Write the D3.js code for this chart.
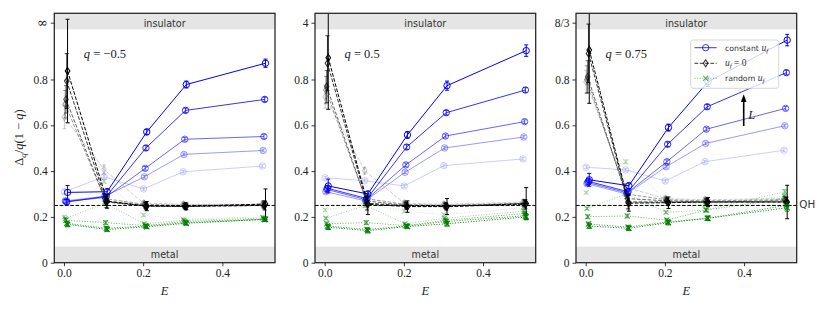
<!DOCTYPE html>
<html><head><meta charset="utf-8">
<script src="https://cdn.jsdelivr.net/npm/d3@7"></script>
<style>body{margin:0;background:#fff;} svg{display:block;}</style>
</head><body>
<svg id="c" width="830" height="311"></svg>
<script>
// ---------------- data ----------------
const E = [0, 0.1, 0.2, 0.3, 0.5];
const qLabels = ["−0.5", "0.5", "0.75"];
const topTickLabels = ["∞", "4", "8/3"];
const yTicks = [0, 0.2, 0.4, 0.6, 0.8];
const xTicks = [0, 0.2, 0.4];
const topTickValue = 1.048;
const insulatorFrom = 1.019;
const metalTo = 0.07;
const qhLevel = 0.25;
const legendLabels = ["constant", "= 0", "random"];

// rows: L1 (smallest, faintest) ... L5 (largest, darkest)
// q = -0.5
const constQ1 = [
  [0.310, 0.375, 0.322, 0.397, 0.422],
  [0.270, 0.290, 0.375, 0.473, 0.490],
  [0.268, 0.285, 0.412, 0.539, 0.551],
  [0.265, 0.290, 0.501, 0.665, 0.713],
  [0.307, 0.310, 0.571, 0.778, 0.871]];
const constErrQ1 = [
  [0.008, 0.008, 0.006, 0.006, 0.006],
  [0.008, 0.006, 0.006, 0.006, 0.006],
  [0.008, 0.006, 0.008, 0.008, 0.008],
  [0.010, 0.008, 0.010, 0.010, 0.010],
  [0.030, 0.012, 0.012, 0.015, 0.018]];
const zeroQ1 = [
  [0.635, 0.407, 0.260, 0.255, 0.255],
  [0.692, 0.280, 0.255, 0.250, 0.255],
  [0.713, 0.270, 0.250, 0.248, 0.250],
  [0.793, 0.265, 0.248, 0.245, 0.250],
  [0.837, 0.268, 0.247, 0.246, 0.256]];
const zeroErrQ1 = [
  [0.050, 0.020, 0.010, 0.010, 0.010],
  [0.060, 0.020, 0.010, 0.010, 0.015],
  [0.060, 0.020, 0.012, 0.010, 0.015],
  [0.120, 0.025, 0.015, 0.012, 0.020],
  [0.226, 0.030, 0.020, 0.015, 0.066]];
const randQ1 = [
  [0.200, 0.355, 0.208, 0.190, 0.200],
  [0.192, 0.260, 0.170, 0.185, 0.195],
  [0.185, 0.175, 0.162, 0.180, 0.190],
  [0.172, 0.150, 0.160, 0.175, 0.188],
  [0.167, 0.145, 0.157, 0.172, 0.190]];
const randErrQ1 = [
  [0.006, 0.008, 0.006, 0.006, 0.006],
  [0.006, 0.008, 0.006, 0.006, 0.006],
  [0.008, 0.008, 0.006, 0.006, 0.008],
  [0.008, 0.008, 0.006, 0.008, 0.008],
  [0.010, 0.008, 0.008, 0.008, 0.010]];

// q = 0.5
const constQ2 = [
  [0.371, 0.358, 0.335, 0.424, 0.453],
  [0.310, 0.270, 0.395, 0.501, 0.549],
  [0.320, 0.275, 0.427, 0.553, 0.616],
  [0.325, 0.280, 0.505, 0.655, 0.754],
  [0.335, 0.300, 0.558, 0.773, 0.926]];
const constErrQ2 = [
  [0.006, 0.006, 0.006, 0.006, 0.006],
  [0.008, 0.006, 0.006, 0.006, 0.006],
  [0.010, 0.006, 0.008, 0.008, 0.008],
  [0.012, 0.008, 0.010, 0.010, 0.010],
  [0.030, 0.012, 0.015, 0.020, 0.025]];
const zeroQ2 = [
  [0.725, 0.402, 0.260, 0.255, 0.265],
  [0.754, 0.280, 0.255, 0.250, 0.260],
  [0.769, 0.270, 0.250, 0.248, 0.258],
  [0.871, 0.260, 0.248, 0.245, 0.255],
  [0.895, 0.255, 0.245, 0.245, 0.258]];
const zeroErrQ2 = [
  [0.050, 0.015, 0.010, 0.010, 0.010],
  [0.060, 0.020, 0.010, 0.010, 0.015],
  [0.070, 0.020, 0.012, 0.012, 0.015],
  [0.120, 0.030, 0.015, 0.015, 0.020],
  [0.225, 0.045, 0.025, 0.035, 0.070]];
const randQ2 = [
  [0.230, 0.260, 0.225, 0.210, 0.240],
  [0.194, 0.250, 0.170, 0.194, 0.225],
  [0.170, 0.175, 0.162, 0.185, 0.215],
  [0.160, 0.145, 0.160, 0.180, 0.205],
  [0.155, 0.140, 0.158, 0.170, 0.200]];
const randErrQ2 = [
  [0.006, 0.008, 0.006, 0.006, 0.006],
  [0.006, 0.008, 0.006, 0.006, 0.008],
  [0.008, 0.008, 0.006, 0.008, 0.008],
  [0.008, 0.008, 0.006, 0.008, 0.010],
  [0.010, 0.010, 0.008, 0.010, 0.012]];

// q = 0.75
const constQ3 = [
  [0.417, 0.405, 0.357, 0.441, 0.491],
  [0.345, 0.300, 0.419, 0.521, 0.598],
  [0.350, 0.305, 0.441, 0.583, 0.674],
  [0.355, 0.310, 0.517, 0.681, 0.830],
  [0.362, 0.336, 0.590, 0.790, 0.972]];
const constErrQ3 = [
  [0.006, 0.006, 0.006, 0.006, 0.006],
  [0.008, 0.006, 0.006, 0.006, 0.006],
  [0.010, 0.008, 0.008, 0.008, 0.008],
  [0.012, 0.008, 0.010, 0.010, 0.010],
  [0.028, 0.012, 0.015, 0.020, 0.025]];
const zeroQ3 = [
  [0.790, 0.330, 0.280, 0.275, 0.280],
  [0.800, 0.300, 0.275, 0.270, 0.275],
  [0.812, 0.280, 0.270, 0.265, 0.270],
  [0.914, 0.265, 0.265, 0.265, 0.265],
  [0.929, 0.260, 0.262, 0.265, 0.265]];
const zeroErrQ3 = [
  [0.050, 0.015, 0.010, 0.010, 0.010],
  [0.060, 0.020, 0.010, 0.010, 0.015],
  [0.070, 0.020, 0.012, 0.012, 0.015],
  [0.128, 0.030, 0.015, 0.015, 0.020],
  [0.233, 0.035, 0.025, 0.020, 0.073]];
const randQ3 = [
  [0.306, 0.441, 0.274, 0.252, 0.290],
  [0.237, 0.300, 0.220, 0.230, 0.310],
  [0.201, 0.204, 0.186, 0.230, 0.280],
  [0.169, 0.155, 0.178, 0.194, 0.250],
  [0.160, 0.150, 0.175, 0.194, 0.240]];
const randErrQ3 = [
  [0.006, 0.008, 0.006, 0.006, 0.008],
  [0.006, 0.008, 0.006, 0.008, 0.010],
  [0.008, 0.008, 0.008, 0.008, 0.010],
  [0.008, 0.008, 0.008, 0.008, 0.012],
  [0.010, 0.010, 0.010, 0.010, 0.015]];

// ---------------- layout / style ----------------
const panels = [
  {q: qLabels[0], top: topTickLabels[0], groups: [[constQ1, constErrQ1], [zeroQ1, zeroErrQ1], [randQ1, randErrQ1]]},
  {q: qLabels[1], top: topTickLabels[1], groups: [[constQ2, constErrQ2], [zeroQ2, zeroErrQ2], [randQ2, randErrQ2]]},
  {q: qLabels[2], top: topTickLabels[2], groups: [[constQ3, constErrQ3], [zeroQ3, zeroErrQ3], [randQ3, randErrQ3]]}
];
const lefts = [54.3, 315, 576];
const W = 220.7, TOP = 13.3, BOT = 262.7;
const alphas = [0.2, 0.4, 0.6, 0.8, 1.0];
const styles = [
  {color: "#0000ff", dash: null, marker: "circle"},
  {color: "#000000", dash: "3.7,1.6", marker: "diamond"},
  {color: "#008000", dash: "1,1.65", marker: "x"}
];
const SERIF = "'Liberation Serif','DejaVu Serif',serif";
const SANS = "'DejaVu Sans',sans-serif";

const svg = d3.select("#c");
const x = d3.scaleLinear().domain([-0.0245, 0.533]).range([0, W]);
const y = d3.scaleLinear().domain([0, 1.089]).range([BOT, TOP]);
const jitter = i => 0.001 + 0.002 * i;

function marker(g, type, cx, cy, color, op) {
  if (type === "circle") {
    g.append("circle").attr("cx", cx).attr("cy", cy).attr("r", 3.2)
      .attr("fill", "none").attr("stroke", color).attr("stroke-opacity", op).attr("stroke-width", 1);
  } else if (type === "diamond") {
    g.append("path").attr("d", `M${cx},${cy-3.5}L${cx+2.3},${cy}L${cx},${cy+3.5}L${cx-2.3},${cy}Z`)
      .attr("fill", "none").attr("stroke", color).attr("stroke-opacity", op).attr("stroke-width", 1.1);
  } else {
    const s = 2.6;
    g.append("path").attr("d", `M${cx-s},${cy-s}L${cx+s},${cy+s}M${cx-s},${cy+s}L${cx+s},${cy-s}`)
      .attr("fill", "none").attr("stroke", color).attr("stroke-opacity", op).attr("stroke-width", 1.1);
  }
}

const defs = svg.append("defs");

panels.forEach((p, pi) => {
  const L0 = lefts[pi];
  const g = svg.append("g").attr("transform", `translate(${L0},0)`);
  defs.append("clipPath").attr("id", "clip" + pi)
    .append("rect").attr("x", 0).attr("y", TOP).attr("width", W).attr("height", BOT - TOP);

  // bands
  g.append("rect").attr("x", 0).attr("y", TOP).attr("width", W).attr("height", y(insulatorFrom) - TOP).attr("fill", "#e5e5e5");
  g.append("rect").attr("x", 0).attr("y", y(metalTo)).attr("width", W).attr("height", BOT - y(metalTo)).attr("fill", "#e5e5e5");
  g.append("text").attr("x", W / 2).attr("y", 26.5).attr("text-anchor", "middle")
    .attr("font-family", SANS).attr("font-size", 9.6).attr("fill", "#333").text("insulator");
  g.append("text").attr("x", W / 2).attr("y", 258).attr("text-anchor", "middle")
    .attr("font-family", SANS).attr("font-size", 9.6).attr("fill", "#333").text("metal");

  // QH dashed line
  g.append("line").attr("x1", 0).attr("x2", pi === 2 ? W + 2 : W).attr("y1", y(qhLevel)).attr("y2", y(qhLevel))
    .attr("stroke", "#000").attr("stroke-width", 1).attr("stroke-dasharray", "3.7,1.6");

  // data
  const dg = g.append("g").attr("clip-path", `url(#clip${pi})`);
  for (let li = 0; li < 5; li++) {
    p.groups.forEach(([vals, errs], gi) => {
      const st = styles[gi];
      const op = alphas[li];
      const pts = vals[li].map((v, k) => [x(E[k] + jitter(li)), y(v)]);
      const line = dg.append("path").attr("d", d3.line()(pts))
        .attr("fill", "none").attr("stroke", st.color).attr("stroke-opacity", op).attr("stroke-width", 1);
      if (st.dash) line.attr("stroke-dasharray", st.dash);
      pts.forEach((d, k) => {
        const v = vals[li][k], e = errs[li][k];
        const y1 = y(v + e), y2 = y(v - e);
        dg.append("line").attr("x1", d[0]).attr("x2", d[0]).attr("y1", y1).attr("y2", y2)
          .attr("stroke", st.color).attr("stroke-opacity", op).attr("stroke-width", 1);
        [y1, y2].forEach(yy => dg.append("line").attr("x1", d[0] - 2).attr("x2", d[0] + 2)
          .attr("y1", yy).attr("y2", yy).attr("stroke", st.color).attr("stroke-opacity", op).attr("stroke-width", 1));
        marker(dg, st.marker, d[0], d[1], st.color, op);
      });
    });
  }

  // axes
  const ya = g.append("g").call(d3.axisLeft(y).tickValues([...yTicks, topTickValue]).tickSize(3.5).tickPadding(3)
    .tickFormat(d => d === topTickValue ? p.top : (d === 0 ? "0" : d3.format(".1f")(d))));
  const xa = g.append("g").attr("transform", `translate(0,${BOT})`)
    .call(d3.axisBottom(x).tickValues(xTicks).tickSize(3.5).tickPadding(3).tickFormat(d3.format(".1f")));
  [ya, xa].forEach(a => {
    a.select(".domain").remove();
    a.selectAll("line").attr("stroke", "#222").attr("stroke-width", 0.9);
    a.selectAll("text").attr("font-family", SERIF).attr("font-size", 11.5).attr("fill", "#222");
  });
  ya.selectAll(".tick text").filter(d => d === topTickValue && p.top === "∞")
    .attr("font-family", "'DejaVu Serif',serif").attr("font-size", 13);

  // frame
  g.append("rect").attr("x", 0).attr("y", TOP).attr("width", W).attr("height", BOT - TOP)
    .attr("fill", "none").attr("stroke", "#222").attr("stroke-width", 1.25);

  // q label
  const qt = g.append("text").attr("x", 29.5).attr("y", 57.5).attr("font-family", SERIF).attr("font-size", 12.5).attr("fill", "#222");
  qt.append("tspan").attr("font-style", "italic").text("q");
  qt.append("tspan").text(" = " + p.q);

  // x label
  g.append("text").attr("x", W / 2).attr("y", 295).attr("text-anchor", "middle")
    .attr("font-family", SERIF).attr("font-style", "italic").attr("font-size", 12.5).attr("fill", "#222").text("E");
});

// y label
const yl = svg.append("text").attr("transform", "translate(23,137.5) rotate(-90)").attr("text-anchor", "middle")
  .attr("font-family", SERIF).attr("font-size", 12.5).attr("fill", "#222");
yl.append("tspan").text("Δ");
yl.append("tspan").attr("font-style", "italic").attr("font-size", 9).attr("dy", 2.5).text("q");
yl.append("tspan").attr("dy", -2.5).text("/");
yl.append("tspan").attr("font-style", "italic").text("q");
yl.append("tspan").text("(1 − ");
yl.append("tspan").attr("font-style", "italic").text("q");
yl.append("tspan").text(")");

// QH label
svg.append("text").attr("x", 799.3).attr("y", 208).attr("font-family", SANS).attr("font-size", 10.3).attr("fill", "#333").text("QH");

// legend (in right panel)
const lg = svg.append("g").attr("transform", `translate(${lefts[2]},0)`);
lg.append("rect").attr("x", 114.7).attr("y", 40).attr("width", 88).attr("height", 48.3).attr("rx", 2.5)
  .attr("fill", "#fff").attr("fill-opacity", 0.8).attr("stroke", "#ccc").attr("stroke-width", 0.8);
const rowsY = [47.7, 63.3, 78.3];
const legOps = [0.8, 0.8, 0.6];
styles.forEach((st, i) => {
  const ln = lg.append("line").attr("x1", 118.5).attr("x2", 140.7).attr("y1", rowsY[i]).attr("y2", rowsY[i])
    .attr("stroke", st.color).attr("stroke-opacity", legOps[i]).attr("stroke-width", 1);
  if (st.dash) ln.attr("stroke-dasharray", st.dash);
  marker(lg, st.marker, 129.7, rowsY[i], st.color, legOps[i]);
  const t = lg.append("text").attr("x", 149).attr("y", rowsY[i] + 2.8).attr("font-size", 7.8).attr("fill", "#333");
  if (i === 1) {
    t.append("tspan").attr("font-family", SERIF).attr("font-style", "italic").attr("font-size", 9.5).text("u");
    t.append("tspan").attr("font-family", SERIF).attr("font-style", "italic").attr("font-size", 7).attr("dy", 2).text("f");
    t.append("tspan").attr("font-family", SERIF).attr("font-size", 9.5).attr("dy", -2).text(" " + legendLabels[1]);
  } else {
    t.append("tspan").attr("font-family", SANS).text(legendLabels[i] + " ");
    t.append("tspan").attr("font-family", SERIF).attr("font-style", "italic").attr("font-size", 9.5).text("u");
    t.append("tspan").attr("font-family", SERIF).attr("font-style", "italic").attr("font-size", 7).attr("dy", 2).text("f");
  }
});

// L arrow
const ax = lefts[2] + 167.7;
svg.append("line").attr("x1", ax).attr("x2", ax).attr("y1", 126).attr("y2", 101)
  .attr("stroke", "#000").attr("stroke-width", 1.6);
svg.append("path").attr("d", `M${ax},94.3L${ax-2.8},102L${ax+2.8},102Z`).attr("fill", "#000");
svg.append("text").attr("x", ax + 4.5).attr("y", 118.5).attr("font-family", SERIF).attr("font-style", "italic")
  .attr("font-size", 12.5).attr("fill", "#222").text("L");
</script>
</body></html>
